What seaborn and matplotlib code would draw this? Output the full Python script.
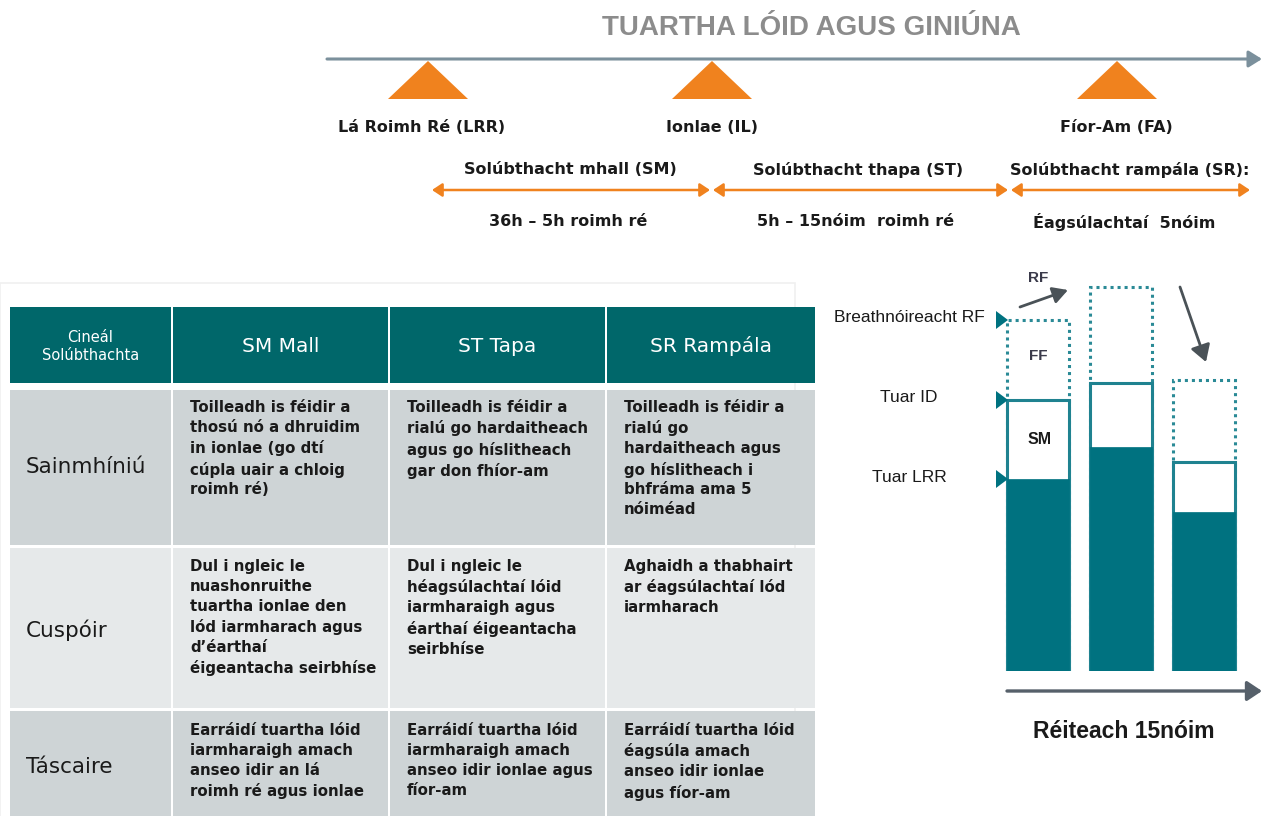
import matplotlib
matplotlib.use("Agg")
import matplotlib.pyplot as plt
from matplotlib.patches import Polygon, Rectangle, FancyArrowPatch
import seaborn as sns
import pandas as pd

# ---------------- data ----------------
title = "TUARTHA LÓID AGUS GINIÚNA"
milestones = ["Lá Roimh Ré (LRR)", "Ionlae (IL)", "Fíor-Am (FA)"]
phase_names = ["Solúbthacht mhall (SM)", "Solúbthacht thapa (ST)", "Solúbthacht rampála (SR):"]
phase_spans = ["36h – 5h roimh ré", "5h – 15nóim  roimh ré", "Éagsúlachtaí  5nóim"]

header = ["Cineál\nSolúbthachta", "SM Mall", "ST Tapa", "SR Rampála"]
row_labels = ["Sainmhíniú", "Cuspóir", "Táscaire"]
cells = [
    ["Toilleadh is féidir a\nthosú nó a dhruidim\nin ionlae (go dtí\ncúpla uair a chloig\nroimh ré)",
     "Toilleadh is féidir a\nrialú go hardaitheach\nagus go híslitheach\ngar don fhíor-am",
     "Toilleadh is féidir a\nrialú go\nhardaitheach agus\ngo híslitheach i\nbhfráma ama 5\nnóiméad"],
    ["Dul i ngleic le\nnuashonruithe\ntuartha ionlae den\nlód iarmharach agus\nd’éarthaí\néigeantacha seirbhíse",
     "Dul i ngleic le\nhéagsúlachtaí lóid\niarmharaigh agus\néarthaí éigeantacha\nseirbhíse",
     "Aghaidh a thabhairt\nar éagsúlachtaí lód\niarmharach"],
    ["Earráidí tuartha lóid\niarmharaigh amach\nanseo idir an lá\nroimh ré agus ionlae",
     "Earráidí tuartha lóid\niarmharaigh amach\nanseo idir ionlae agus\nfíor-am",
     "Earráidí tuartha lóid\néagsúla amach\nanseo idir ionlae\nagus fíor-am"],
]

bar_slots = ["t1", "t2", "t3"]
lrr_forecast = [192, 224, 159]
id_forecast = [271, 288, 209]
rf_observed = [351, 384, 291]
level_labels = ["Breathnóireacht RF", "Tuar ID", "Tuar LRR"]
xaxis_label = "Réiteach 15nóim"

# ---------------- style ----------------
W, H = 1262, 816
TEAL = "#007280"
HEAD = "#00676a"
ORANGE = "#f0821e"
LINE = "#7b909c"
GRAY_ROW = "#ced4d6"
LIGHT_ROW = "#e6e9ea"
TXT = "#1a1a1a"

sns.set_theme(style="white")
plt.rcParams["font.family"] = ["Liberation Sans", "DejaVu Sans"]
WIDE = ["DejaVu Sans"]

fig = plt.figure(figsize=(W / 100, H / 100), dpi=100)
ax = fig.add_axes([0, 0, 1, 1])
ax.set_xlim(0, W)
ax.set_ylim(H, 0)
ax.axis("off")

# ---------------- timeline ----------------
ax.text(811, 28, title, ha="center", va="center", fontsize=20, fontweight="bold", color="#8c8c8c")
ax.add_patch(FancyArrowPatch((327, 59), (1262, 59), arrowstyle="-|>,head_length=8,head_width=5",
                             color=LINE, lw=2.2, mutation_scale=1, shrinkA=0, shrinkB=0))
tri_x = [428, 712, 1117]
lab_x = [422, 712, 1116]
for cx, lx, lab in zip(tri_x, lab_x, milestones):
    ax.add_patch(Polygon([[cx - 40, 99], [cx + 40, 99], [cx, 61]], closed=True, color=ORANGE, lw=0))
    ax.text(lx, 127, lab, ha="center", va="center", fontsize=11.5,
            fontweight="bold", color=TXT, family=WIDE)

spans = [(432, 710), (713, 1008), (1011, 1250)]
name_x = [570, 858, 1130]
span_x = [568, 856, 1124]
for (a, b), nm, sp, nx, sx in zip(spans, phase_names, phase_spans, name_x, span_x):
    ax.add_patch(FancyArrowPatch((a, 190), (b, 190), arrowstyle="<|-|>,head_length=6,head_width=4",
                                 color=ORANGE, lw=1.8, mutation_scale=1, shrinkA=0, shrinkB=0))
    ax.text(nx, 170, nm, ha="center", va="center", fontsize=11.5, fontweight="bold", color=TXT,
            family=WIDE)
    ax.text(sx, 222, sp, ha="center", va="center", fontsize=11.5, fontweight="bold", color=TXT,
            family=WIDE)

# ---------------- table ----------------
col_edges = [(10, 171), (173, 388), (390, 605), (607, 815)]
row_edges = [(390, 545), (548, 708), (711, 816)]
row_cols = [GRAY_ROW, LIGHT_ROW, GRAY_ROW]
tfont = ["DejaVu Sans"]
ax.add_patch(Rectangle((0, 283), 795, 540, fill=False, ec="#f0f0f0", lw=1.2))
for i, (x0, x1) in enumerate(col_edges):
    ax.add_patch(Rectangle((x0, 307), x1 - x0, 383 - 307, color=HEAD, lw=0))
    ax.text((x0 + x1) / 2, 346, header[i], ha="center", va="center", color="white",
            fontsize=10.5 if i == 0 else 14.5, family=tfont, linespacing=1.25)
for r, (y0, y1) in enumerate(row_edges):
    for c, (x0, x1) in enumerate(col_edges):
        ax.add_patch(Rectangle((x0, y0), x1 - x0, y1 - y0, color=row_cols[r], lw=0))
    ax.text(26, [467, 630, 767][r], row_labels[r], ha="left", va="center", fontsize=15.5,
            family=tfont, color=TXT)
    ystart = [400, 559, 723][r]
    for c in range(3):
        ax.text(col_edges[c + 1][0] + 17, ystart, cells[r][c], ha="left", va="top", fontsize=10.8,
                fontweight="bold", family=tfont, color=TXT, linespacing=1.41)

# ---------------- bar chart ----------------
bx_l, bx_r, bx_b, bx_t = 1000, 1245, 671, 260
bx = fig.add_axes([bx_l / W, (H - bx_b) / H, (bx_r - bx_l) / W, (bx_b - bx_t) / H])
df = pd.DataFrame({"slot": bar_slots, "lrr": lrr_forecast, "id": id_forecast, "rf": rf_observed})
sns.barplot(data=df, x="slot", y="rf", ax=bx, fill=False, edgecolor="#2a8a96", linewidth=2.2,
            linestyle=(0, (1, 1.3)), width=0.75)
sns.barplot(data=df, x="slot", y="id", ax=bx, color="white", edgecolor="#1f8290", linewidth=2.2,
            width=0.75, saturation=1)
sns.barplot(data=df, x="slot", y="lrr", ax=bx, color=TEAL, edgecolor=TEAL, linewidth=0.5,
            width=0.75, saturation=1)
bx.set_xlim(-38 / 83, 207 / 83)
bx.set_ylim(0, bx_b - bx_t)
bx.axis("off")
bx.patch.set_alpha(0)

# overlay for annotations above bars
ov = fig.add_axes([0, 0, 1, 1])
ov.set_xlim(0, W)
ov.set_ylim(H, 0)
ov.axis("off")
ov.patch.set_alpha(0)

lvl_vals = [rf_observed[0], id_forecast[0], lrr_forecast[0]]
lvl_text_x = [985, 938, 947]
for v, lab, tx in zip(lvl_vals, level_labels, lvl_text_x):
    y = bx_b - v
    ov.add_patch(Polygon([[996, y - 9], [996, y + 9], [1008, y]], closed=True, color=TEAL, lw=0))
    ov.text(tx, y - 2, lab, ha="right", va="center", fontsize=12.5, color=TXT)

ov.text(1040, 440, "SM", ha="center", va="center", fontsize=11.5, fontweight="bold", color=TXT)
ov.text(1038, 356, "FF", ha="center", va="center", fontsize=11, fontweight="bold", color="#3a3a4a")
ov.text(1038, 278, "RF", ha="center", va="center", fontsize=11, fontweight="bold", color="#3a3a4a")
ov.add_patch(FancyArrowPatch((1020, 307), (1068, 290), arrowstyle="-|>,head_length=9,head_width=5",
                             color="#4a5257", lw=2, mutation_scale=1, shrinkA=0, shrinkB=0))
ov.add_patch(FancyArrowPatch((1180, 287), (1206, 362), arrowstyle="-|>,head_length=10,head_width=6",
                             color="#4a5257", lw=2, mutation_scale=1, shrinkA=0, shrinkB=0))

ov.add_patch(FancyArrowPatch((1007, 691), (1262, 691), arrowstyle="-|>,head_length=9,head_width=6",
                             color="#56606a", lw=2.4, mutation_scale=1, shrinkA=0, shrinkB=0))
ov.text(1124, 731, xaxis_label, ha="center", va="center", fontsize=16.5, fontweight="bold", color=TXT)

fig.savefig("out.png", dpi=100)
